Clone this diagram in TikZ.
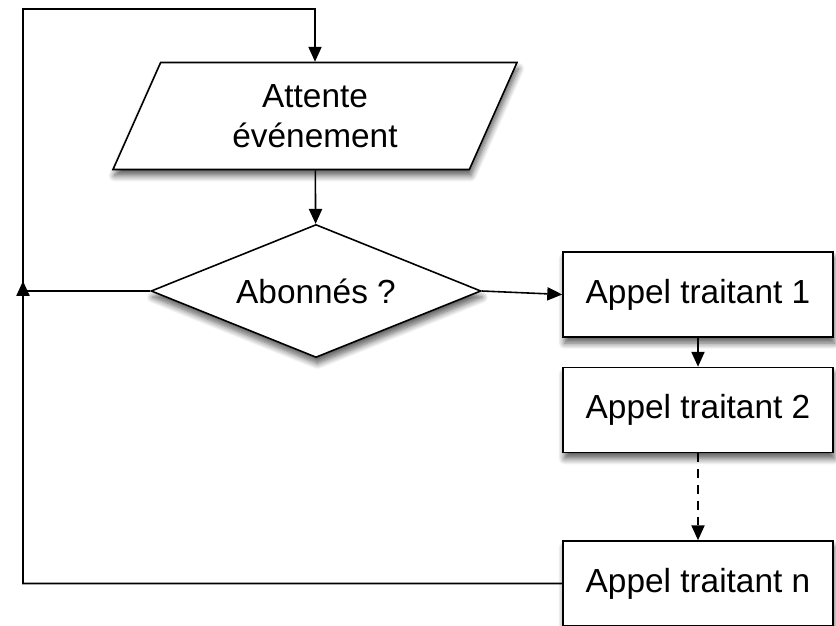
\documentclass[tikz,border=0pt]{standalone}
\usepackage{fontspec}
\setmainfont{Liberation Sans}
\usetikzlibrary{arrows.meta,positioning,shapes.geometric,shadows.blur}

\begin{document}
\begin{tikzpicture}[
  ombre/.style={blur shadow={shadow xshift=0.8pt, shadow yshift=-3.5pt, shadow blur steps=8, shadow blur radius=3.5pt, shadow opacity=65}},
  bloc/.style={draw, line width=0.9pt, fill=white, ombre, font=\fontsize{19}{23}\selectfont, align=center},
  appel/.style={bloc, rectangle, minimum width=5.4cm, minimum height=1.7cm},
  fleche/.style={line width=0.9pt, -{Triangle[length=8.5pt,width=7.5pt]}}
]
  \useasboundingbox (0,0) rectangle (16.72,12.5);

  \node[bloc, trapezium, trapezium left angle=53.2, trapezium right angle=126.8, trapezium stretches body, minimum width=8.08cm, minimum height=2.14cm, inner sep=0pt] (attente) at (6.30,10.18) {Attente\\événement};
  \node[bloc, diamond, aspect=2.5, minimum width=6.6cm, minimum height=2.66cm, inner sep=0pt] (abonnes) at (6.32,6.68) {Abonnés ?};

  \node[appel] (appel1) at (13.96,6.61) {Appel traitant 1};
  \node[appel] (appel2) at (13.96,4.30) {Appel traitant 2};
  \node[appel] (appeln) at (13.96,0.83) {Appel traitant n};

  \coordinate (gauche) at (0.46,6.88);
  \coordinate (coin) at (0.46,12.32);

  \draw[fleche] (attente) -- (abonnes);
  \draw[fleche] (abonnes.east) -- (appel1.west);
  \draw[fleche] (appel1) -- (appel2);
  \draw[fleche, dashed, dash pattern=on 5pt off 4pt] (appel2) -- (appeln);
  \draw[fleche] (abonnes.west) -- (abonnes.west -| gauche) -- (gauche);
  \draw[fleche] (appeln.west) -- (appeln.west -| coin) -- (coin) -- (coin -| attente) -- (attente);
\end{tikzpicture}
\end{document}
